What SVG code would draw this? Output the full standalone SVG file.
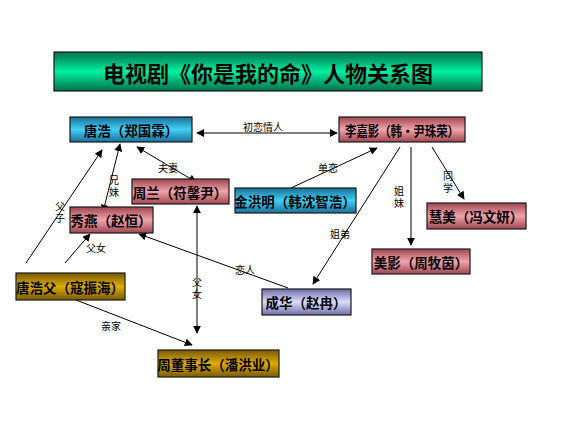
<svg xmlns="http://www.w3.org/2000/svg" width="582" height="435" viewBox="0 0 582 435">
<defs>
<linearGradient id="gGreen" x1="0" y1="0" x2="0" y2="1"><stop offset="0" stop-color="#00704a"/><stop offset="0.5" stop-color="#00f0a0"/><stop offset="1" stop-color="#00704a"/></linearGradient>
<linearGradient id="gBlue" x1="0" y1="0" x2="0" y2="1"><stop offset="0" stop-color="#1a6f99"/><stop offset="0.5" stop-color="#40d0f5"/><stop offset="1" stop-color="#1a6f99"/></linearGradient>
<linearGradient id="gPink" x1="0" y1="0" x2="0" y2="1"><stop offset="0" stop-color="#a0454f"/><stop offset="0.5" stop-color="#f0a4ac"/><stop offset="1" stop-color="#a0454f"/></linearGradient>
<linearGradient id="gGold" x1="0" y1="0" x2="0" y2="1"><stop offset="0" stop-color="#7a5a00"/><stop offset="0.5" stop-color="#dcaa00"/><stop offset="1" stop-color="#7a5a00"/></linearGradient>
<linearGradient id="gLav" x1="0" y1="0" x2="0" y2="1"><stop offset="0" stop-color="#6e6ea8"/><stop offset="0.5" stop-color="#dcdcfa"/><stop offset="1" stop-color="#6e6ea8"/></linearGradient>
<marker id="ah" viewBox="0 0 10 10" refX="9" refY="5" markerWidth="8" markerHeight="8" markerUnits="userSpaceOnUse" orient="auto-start-reverse"><path d="M0,0 L10,5 L0,10 z" fill="#000"/></marker>
<style>
.box{stroke:#1a1a1a;stroke-width:1.2}
.nt{font-family:"Noto Sans CJK SC","Noto Sans",sans-serif;font-weight:bold;font-size:13.5px;fill:#000;text-anchor:middle;dominant-baseline:central}
.lb{font-family:"Noto Sans CJK SC","Noto Sans",sans-serif;font-size:10px;fill:#000;text-anchor:middle;dominant-baseline:central}
.vl{font-family:"Noto Sans CJK SC","Noto Sans",sans-serif;font-size:10px;fill:#000;text-anchor:middle;writing-mode:vertical-rl;text-orientation:upright;letter-spacing:2px}
.ln{stroke:#000;stroke-width:1;fill:none}
.a1{marker-end:url(#ah)}
.a2{marker-start:url(#ah);marker-end:url(#ah)}
</style>
</defs>
<rect width="582" height="435" fill="#fff"/>
<g id="title">
<rect class="box" x="54" y="52" width="428" height="39" fill="url(#gGreen)"/>
<text x="268" y="72" style="font-family:'Noto Sans CJK SC',sans-serif;font-weight:bold;font-size:22px;text-anchor:middle;dominant-baseline:central">电视剧《你是我的命》人物关系图</text>
</g>
<g id="connectors">
<line class="ln a2" x1="197" y1="133" x2="337" y2="133"/>
<text class="lb" x="263" y="126">初恋情人</text>
<line class="ln a2" x1="120" y1="144" x2="103" y2="212"/>
<text class="vl" x="114" y="187">兄妹</text>
<line class="ln a2" x1="137" y1="147" x2="196" y2="182"/>
<text class="lb" x="168" y="167">夫妻</text>
<line class="ln a1" x1="291" y1="188" x2="377" y2="148"/>
<text class="lb" x="328" y="167">单恋</text>
<line class="ln a1" x1="400" y1="147" x2="313" y2="284"/>
<text class="lb" x="340" y="233">姐弟</text>
<line class="ln a1" x1="411" y1="147" x2="411" y2="245"/>
<text class="vl" x="399" y="198">姐妹</text>
<line class="ln a1" x1="432" y1="147" x2="464" y2="199"/>
<text class="vl" x="448" y="183">同学</text>
<line class="ln a1" x1="26" y1="263" x2="102" y2="150"/>
<text class="vl" x="60" y="213">父子</text>
<line class="ln a1" x1="65" y1="263" x2="90" y2="234"/>
<text class="lb" x="96" y="247">父女</text>
<line class="ln a1" x1="288" y1="288" x2="139" y2="234"/>
<text class="lb" x="245" y="269">恋人</text>
<line class="ln a2" x1="197" y1="206" x2="197" y2="333"/>
<text class="vl" x="197" y="289">父女</text>
<line class="ln a1" x1="76" y1="300" x2="192" y2="345"/>
<text class="lb" x="111" y="325">亲家</text>
</g>
<g id="n-tanghao"><rect class="box" x="70" y="117" width="122" height="25" fill="url(#gBlue)"/><text class="nt" x="131" y="130">唐浩（郑国霖）</text></g>
<g id="n-lijiaying"><rect class="box" x="339" y="117" width="126" height="25" fill="url(#gPink)"/><text class="nt" x="402" y="130" textLength="114" lengthAdjust="spacingAndGlyphs">李嘉影（韩·尹珠荣）</text></g>
<g id="n-zhoulan"><rect class="box" x="132" y="179" width="97" height="25" fill="url(#gPink)"/><text class="nt" x="180" y="192">周兰（符馨尹）</text></g>
<g id="n-jinhongming"><rect class="box" x="235" y="188" width="121" height="25" fill="url(#gBlue)"/><text class="nt" x="295" y="201">金洪明（韩沈智浩）</text></g>
<g id="n-xiuyan"><rect class="box" x="70" y="207" width="83" height="26" fill="url(#gPink)"/><text class="nt" x="111" y="220">秀燕（赵恒）</text></g>
<g id="n-huimei"><rect class="box" x="427" y="203" width="99" height="26" fill="url(#gPink)"/><text class="nt" x="476" y="216">慧美（冯文妍）</text></g>
<g id="n-meiying"><rect class="box" x="372" y="249" width="98" height="25" fill="url(#gPink)"/><text class="nt" x="421" y="262">美影（周牧茵）</text></g>
<g id="n-tanghaofu"><rect class="box" x="16" y="273" width="109" height="27" fill="url(#gGold)"/><text class="nt" x="70" y="287">唐浩父（寇振海）</text></g>
<g id="n-chenghua"><rect class="box" x="262" y="289" width="89" height="26" fill="url(#gLav)"/><text class="nt" x="306" y="302">成华（赵冉）</text></g>
<g id="n-zhoudongshizhang"><rect class="box" x="158" y="350" width="121" height="27" fill="url(#gGold)"/><text class="nt" x="218" y="364">周董事长（潘洪业）</text></g>
</svg>
